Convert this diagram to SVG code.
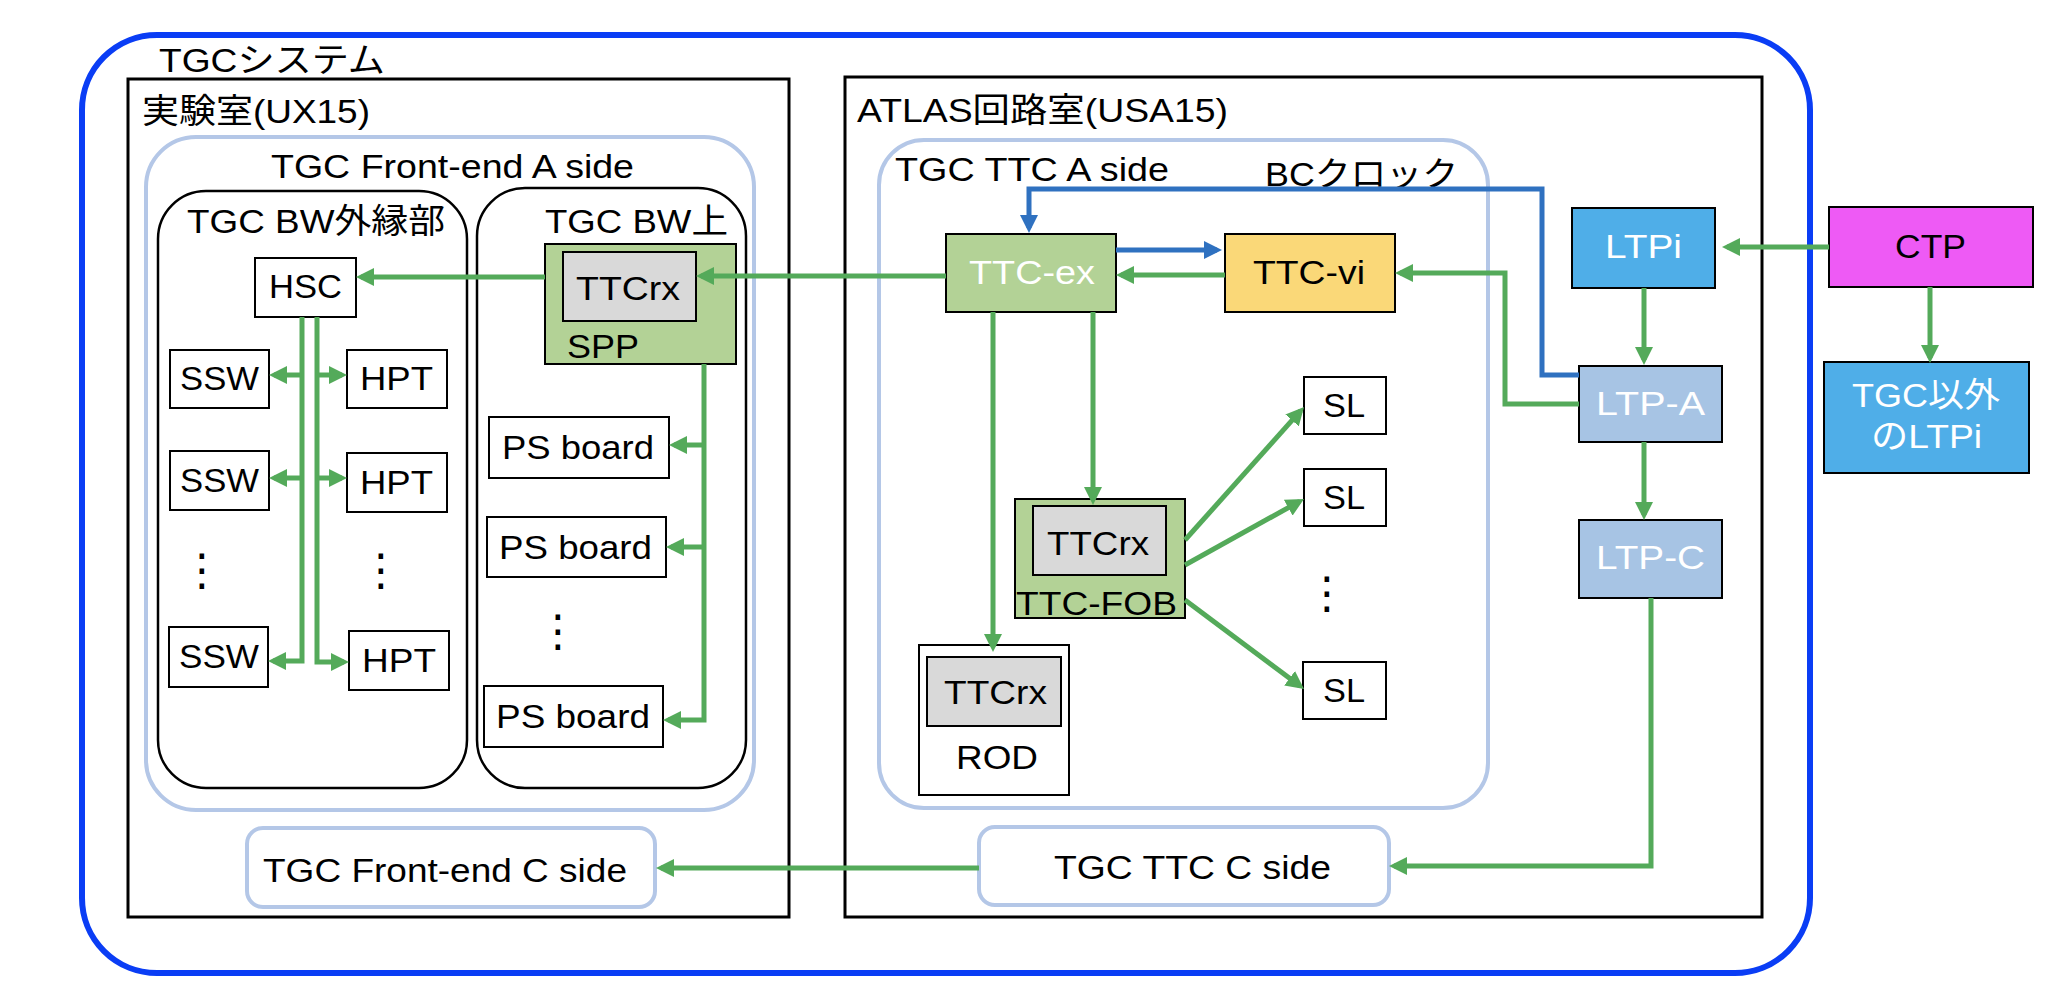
<svg xmlns="http://www.w3.org/2000/svg" width="2062" height="992" viewBox="0 0 2062 992">
<defs>
<marker id="ag" markerUnits="userSpaceOnUse" markerWidth="18" markerHeight="18" refX="13" refY="9" orient="auto"><path d="M0,0 L18,9 L0,18 z" fill="#54AA5A"/></marker>
<marker id="ab" markerUnits="userSpaceOnUse" markerWidth="18" markerHeight="18" refX="13" refY="9" orient="auto"><path d="M0,0 L18,9 L0,18 z" fill="#2F71C0"/></marker>
</defs>
<style>
text{font-family:"Liberation Sans","Noto Sans CJK JP",sans-serif;font-size:34px;fill:#000}
.w{fill:#fff}
.box{fill:#fff;stroke:#000;stroke-width:2}
.grn{fill:#B3D296;stroke:#000;stroke-width:2}
.gry{fill:#D9D9D9;stroke:#000;stroke-width:2}
.ylw{fill:#FAD878;stroke:#000;stroke-width:2}
.sky{fill:#4FAEE8;stroke:#000;stroke-width:2}
.pale{fill:#A7C4E4;stroke:#000;stroke-width:2}
.mag{fill:#EE5AF5;stroke:#000;stroke-width:2}
.lb{fill:#fff;stroke:#B4C7E7;stroke-width:4}
.room{fill:#fff;stroke:#000;stroke-width:3}
.sub{fill:#fff;stroke:#000;stroke-width:2.5}
.g{fill:none;stroke:#54AA5A;stroke-width:5;marker-end:url(#ag)}
.b{fill:none;stroke:#2F71C0;stroke-width:5;marker-end:url(#ab)}
.dots{font-family:"DejaVu Sans",sans-serif;font-size:44px;text-anchor:middle}
</style>
<rect x="0" y="0" width="2062" height="992" fill="#fff"/>

<g id="tgc-system">
<rect x="82" y="35" width="1728" height="938" rx="75" fill="#fff" stroke="#0A3DF5" stroke-width="6"/>
<text x="159" y="72" textLength="226" lengthAdjust="spacingAndGlyphs">TGCシステム</text>
</g>

<g id="ux15">
<rect class="room" x="128" y="79" width="661" height="838"/>
<text x="142" y="123" textLength="228" lengthAdjust="spacingAndGlyphs">実験室(UX15)</text>
</g>
<g id="frontend-a">
<rect class="lb" x="146" y="137" width="608" height="673" rx="50"/>
<text x="271" y="178" textLength="363" lengthAdjust="spacingAndGlyphs">TGC Front-end A side</text>
</g>
<g id="bw-outer">
<rect class="sub" x="158" y="191" width="309" height="597" rx="48"/>
<text x="187" y="233" textLength="258" lengthAdjust="spacingAndGlyphs">TGC BW外縁部</text>
</g>
<g id="bw-on">
<rect class="sub" x="477" y="188" width="269" height="600" rx="48"/>
<text x="545" y="233" textLength="183" lengthAdjust="spacingAndGlyphs">TGC BW上</text>
</g>
<g id="frontend-c">
<rect class="lb" x="247" y="828" width="408" height="79" rx="16"/>
<text x="263" y="882" textLength="364" lengthAdjust="spacingAndGlyphs">TGC Front-end C side</text>
</g>

<g id="usa15">
<rect class="room" x="845" y="77" width="917" height="840"/>
<text x="857" y="122" textLength="371" lengthAdjust="spacingAndGlyphs">ATLAS回路室(USA15)</text>
</g>
<g id="ttc-a">
<rect class="lb" x="879" y="140" width="609" height="668" rx="45"/>
<text x="895" y="181" textLength="274" lengthAdjust="spacingAndGlyphs">TGC TTC A side</text>
<text x="1265" y="186" textLength="193" lengthAdjust="spacingAndGlyphs">BCクロック</text>
</g>
<g id="ttc-c">
<rect class="lb" x="979" y="827" width="410" height="78" rx="16"/>
<text x="1054" y="879" textLength="277" lengthAdjust="spacingAndGlyphs">TGC TTC C side</text>
</g>

<g id="spp">
<rect class="grn" x="545" y="244" width="191" height="120"/>
<rect class="gry" x="563" y="252" width="133" height="69"/>
<text x="576" y="300" textLength="104" lengthAdjust="spacingAndGlyphs">TTCrx</text>
<text x="567" y="358" textLength="72" lengthAdjust="spacingAndGlyphs">SPP</text>
</g>
<g id="hsc">
<rect class="box" x="255" y="258" width="101" height="59"/>
<text x="269" y="298" textLength="73" lengthAdjust="spacingAndGlyphs">HSC</text>
</g>
<g id="ssw1"><rect class="box" x="170" y="350" width="99" height="58"/><text x="180" y="390" textLength="79" lengthAdjust="spacingAndGlyphs">SSW</text></g>
<g id="ssw2"><rect class="box" x="170" y="451" width="99" height="59"/><text x="180" y="492" textLength="79" lengthAdjust="spacingAndGlyphs">SSW</text></g>
<g id="ssw3"><rect class="box" x="169" y="627" width="99" height="60"/><text x="179" y="668" textLength="80" lengthAdjust="spacingAndGlyphs">SSW</text></g>
<g id="hpt1"><rect class="box" x="347" y="350" width="100" height="58"/><text x="360" y="390" textLength="73" lengthAdjust="spacingAndGlyphs">HPT</text></g>
<g id="hpt2"><rect class="box" x="347" y="453" width="100" height="59"/><text x="360" y="494" textLength="73" lengthAdjust="spacingAndGlyphs">HPT</text></g>
<g id="hpt3"><rect class="box" x="349" y="631" width="100" height="59"/><text x="362" y="672" textLength="74" lengthAdjust="spacingAndGlyphs">HPT</text></g>
<g id="ps1"><rect class="box" x="489" y="417" width="180" height="61"/><text x="502" y="459" textLength="152" lengthAdjust="spacingAndGlyphs">PS board</text></g>
<g id="ps2"><rect class="box" x="487" y="517" width="179" height="60"/><text x="499" y="559" textLength="153" lengthAdjust="spacingAndGlyphs">PS board</text></g>
<g id="ps3"><rect class="box" x="484" y="686" width="179" height="61"/><text x="496" y="728" textLength="154" lengthAdjust="spacingAndGlyphs">PS board</text></g>
<g id="dots-left">
<text class="dots" x="202" y="585">⋮</text>
<text class="dots" x="381" y="585">⋮</text>
<text class="dots" x="558" y="646">⋮</text>
</g>

<g id="ttc-ex">
<rect class="grn" x="946" y="234" width="170" height="78"/>
<text class="w" x="969" y="284" textLength="126" lengthAdjust="spacingAndGlyphs">TTC-ex</text>
</g>
<g id="ttc-vi">
<rect class="ylw" x="1225" y="234" width="170" height="78"/>
<text x="1253" y="284" textLength="112" lengthAdjust="spacingAndGlyphs">TTC-vi</text>
</g>
<g id="sl1"><rect class="box" x="1304" y="377" width="82" height="57"/><text x="1323" y="417" textLength="42" lengthAdjust="spacingAndGlyphs">SL</text></g>
<g id="sl2"><rect class="box" x="1304" y="469" width="82" height="57"/><text x="1323" y="509" textLength="42" lengthAdjust="spacingAndGlyphs">SL</text></g>
<g id="sl3"><rect class="box" x="1303" y="662" width="83" height="57"/><text x="1323" y="702" textLength="42" lengthAdjust="spacingAndGlyphs">SL</text></g>
<g id="dots-sl"><text class="dots" x="1327" y="608">⋮</text></g>
<g id="ttc-fob">
<rect class="grn" x="1015" y="499" width="170" height="119"/>
<rect class="gry" x="1033" y="506" width="133" height="69"/>
<text x="1047" y="555" textLength="102" lengthAdjust="spacingAndGlyphs">TTCrx</text>
<text x="1016" y="615" textLength="161" lengthAdjust="spacingAndGlyphs">TTC-FOB</text>
</g>
<g id="rod">
<rect class="box" x="919" y="645" width="150" height="150"/>
<rect class="gry" x="927" y="657" width="134" height="69"/>
<text x="944" y="704" textLength="103" lengthAdjust="spacingAndGlyphs">TTCrx</text>
<text x="956" y="769" textLength="82" lengthAdjust="spacingAndGlyphs">ROD</text>
</g>

<g id="ltpi">
<rect class="sky" x="1572" y="208" width="143" height="80"/>
<text class="w" x="1605" y="258" textLength="77" lengthAdjust="spacingAndGlyphs">LTPi</text>
</g>
<g id="ctp">
<rect class="mag" x="1829" y="207" width="204" height="80"/>
<text x="1895" y="258" textLength="71" lengthAdjust="spacingAndGlyphs">CTP</text>
</g>
<g id="ltp-a">
<rect class="pale" x="1579" y="366" width="143" height="76"/>
<text class="w" x="1596" y="415" textLength="109" lengthAdjust="spacingAndGlyphs">LTP-A</text>
</g>
<g id="ltp-c">
<rect class="pale" x="1579" y="520" width="143" height="78"/>
<text class="w" x="1596" y="569" textLength="109" lengthAdjust="spacingAndGlyphs">LTP-C</text>
</g>
<g id="other-ltpi">
<rect class="sky" x="1824" y="362" width="205" height="111"/>
<text class="w" x="1852" y="407" textLength="148" lengthAdjust="spacingAndGlyphs">TGC以外</text>
<text class="w" x="1871" y="448" textLength="111" lengthAdjust="spacingAndGlyphs">のLTPi</text>
</g>

<g id="connectors">
<path class="g" d="M545,277 H361"/>
<path class="g" d="M946,276 H701"/>
<path class="g" d="M1225,275 H1121"/>
<path class="g" d="M1579,404 H1505 V273 H1400"/>
<path class="g" d="M1093,312 V500"/>
<path class="g" d="M993,312 V647"/>
<path class="g" d="M1185,540 L1300.7,410.7"/>
<path class="g" d="M1185,565 L1299.6,501.4"/>
<path class="g" d="M1185,600 L1300,686"/>
<path class="g" d="M1644,288 V360"/>
<path class="g" d="M1644,442 V515"/>
<path class="g" d="M1829,247 H1727"/>
<path class="g" d="M1930,287 V358"/>
<path class="g" d="M1651,598 V866 H1394"/>
<path class="g" d="M979,868 H661"/>
<path class="g" d="M704,364 V720 H668"/>
<path class="g" d="M704,445 H674"/>
<path class="g" d="M704,547 H671"/>
<path class="g" d="M302,317 V661 H273"/>
<path class="g" d="M302,375 H274"/>
<path class="g" d="M302,478 H274"/>
<path class="g" d="M317,317 V662 H344"/>
<path class="g" d="M317,375 H342"/>
<path class="g" d="M317,478 H342"/>
<path class="b" d="M1579,375 H1542 V189 H1029 V228"/>
<path class="b" d="M1116,250 H1217"/>
</g>
</svg>
